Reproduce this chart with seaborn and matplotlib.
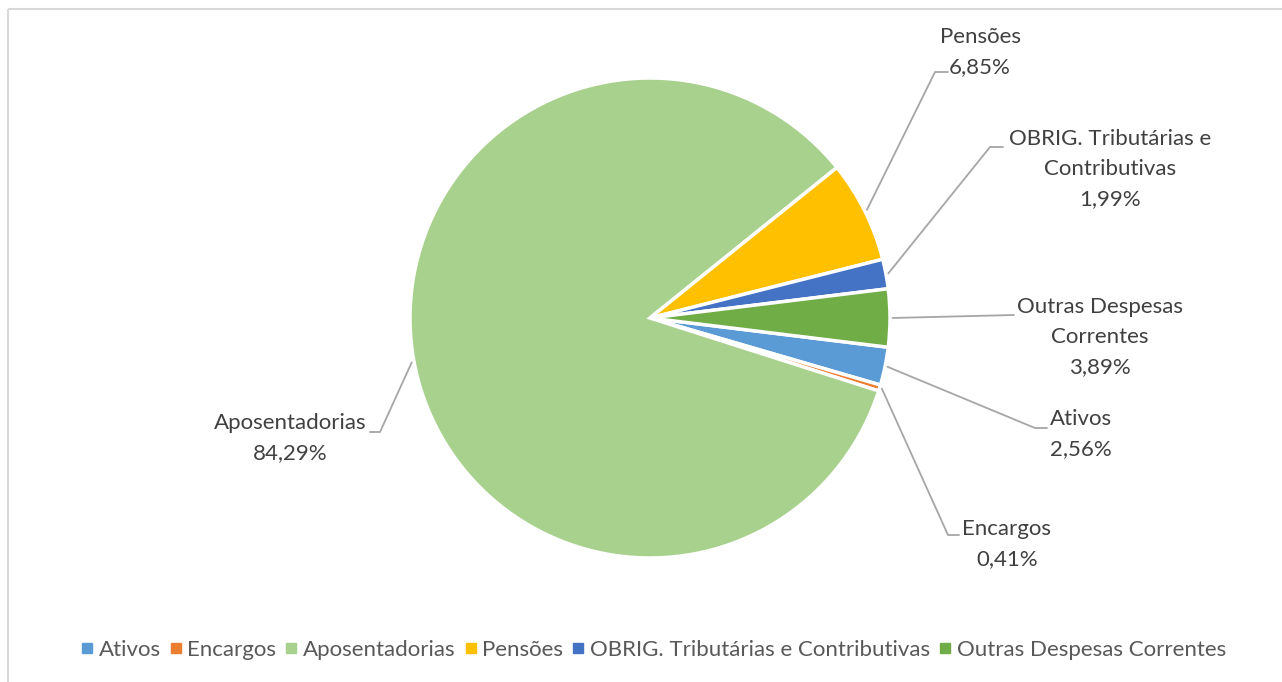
import numpy as np
import matplotlib.pyplot as plt
import seaborn as sns
from matplotlib.lines import Line2D
from matplotlib.patches import Rectangle

# data
categories = ['Ativos', 'Encargos', 'Aposentadorias', 'Pensões',
              'OBRIG. Tributárias e Contributivas', 'Outras Despesas Correntes']
shares = [2.56, 0.41, 84.29, 6.85, 1.99, 3.89]
label_texts = ['Ativos', 'Encargos', 'Aposentadorias', 'Pensões',
               'OBRIG. Tributárias e\nContributivas', 'Outras Despesas\nCorrentes']
colors = ['#5B9BD5', '#ED7D31', '#A9D18E', '#FFC000', '#4472C4', '#70AD47']

# layout (pixel coords, y from top)
W, H = 1282, 682
center = (650, 318)
radius = 240
label_pos = [(1081, 434), (1007, 544), (290, 438), (980, 52), (1110, 169), (1100, 337)]
# leader elbows: (x, y) where the line turns horizontal, and end x
elbows = [(1035, 428, 1047), (948, 535, 959), (380, 432, 370),
          (935, 72, 948), (990, 147, 1003), (1014, 315, 1014)]

sns.set_theme(style="white")
plt.rcParams['font.family'] = ['Lato', 'DejaVu Sans']

fig = plt.figure(figsize=(W / 100, H / 100), dpi=100)
ax = fig.add_axes([0, 0, 1, 1])

# y axis inverted -> counterclock in data = clockwise on screen
wedges, _ = ax.pie(shares, colors=colors, startangle=7, counterclock=True,
                   center=center, radius=radius,
                   wedgeprops=dict(edgecolor='white', linewidth=2.5))
ax.set_xlim(0, W)
ax.set_ylim(H, 0)
ax.set_aspect('auto')
ax.axis('off')

# chart frame
ax.add_patch(Rectangle((7.5, 9), W + 10, H + 10, fill=False,
                       edgecolor='#D9D9D9', linewidth=1.5, clip_on=False))

for w, txt, val, (lx, ly), (ex, ey, endx) in zip(wedges, label_texts, shares, label_pos, elbows):
    mid = np.deg2rad((w.theta1 + w.theta2) / 2)
    sx = center[0] + radius * 1.01 * np.cos(mid)
    sy = center[1] + radius * 1.01 * np.sin(mid)
    ax.plot([sx, ex, endx], [sy, ey, ey], color='#A6A6A6', lw=1.3)
    pct = f"{val:.2f}%".replace('.', ',')
    ax.text(lx, ly, f"{txt}\n{pct}", ha='center', va='center',
            fontsize=16, color='#404040', linespacing=1.62)

handles = [Line2D([], [], marker='s', linestyle='', markersize=7,
                  markerfacecolor=c, markeredgecolor=c) for c in colors]
fig.legend(handles, categories, loc='center', bbox_to_anchor=(654 / W, 1 - 650 / H),
           ncol=6, frameon=False, fontsize=16, labelcolor='#595959',
           handlelength=0.45, handletextpad=0.3, columnspacing=0.45)

fig.savefig('out.png', dpi=100)
